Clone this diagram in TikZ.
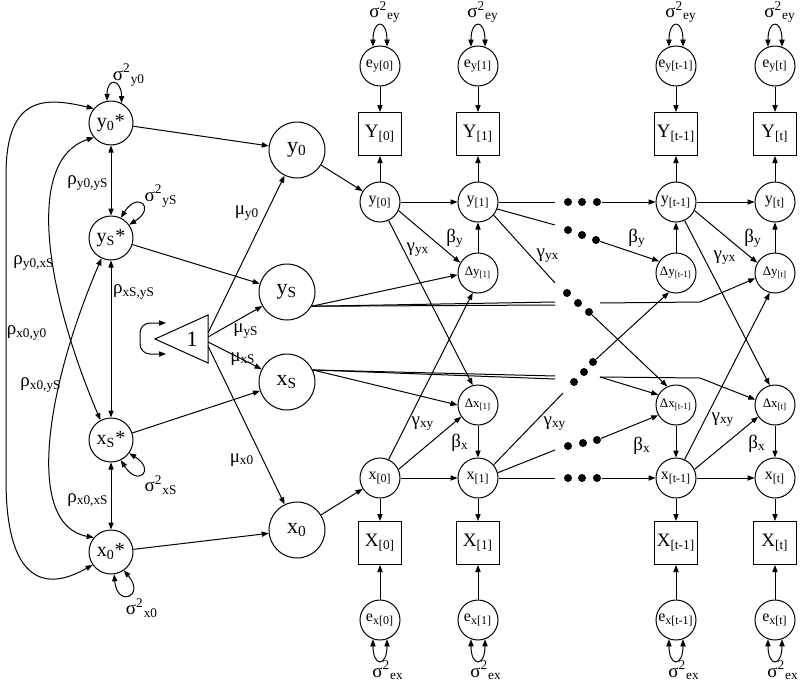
\documentclass[tikz,border=0pt]{standalone}
\usepackage{fontspec}
\setmainfont{Liberation Serif}
\usepackage{tikz}
\usetikzlibrary{arrows.meta, calc}

\newcommand{\tsub}[1]{\textsubscript{#1}}
\newcommand{\tsup}[1]{\textsuperscript{#1}}

\begin{document}
\begin{tikzpicture}[x=0.5pt, y=0.5pt, >={Triangle[length=3.5pt, width=2.6pt]}, line width=0.5pt,
  star/.style={circle, draw, minimum size=22pt, inner sep=0pt, font=\fontsize{10}{12}\selectfont},
  big/.style={circle, draw, minimum size=28pt, inner sep=0pt, font=\fontsize{11}{13}\selectfont},
  lat/.style={circle, draw, minimum size=20pt, inner sep=0pt, font=\fontsize{8}{10}\selectfont},
  dlt/.style={lat, font=\fontsize{6.5}{8}\selectfont},
  obs/.style={rectangle, draw, minimum size=21.5pt, inner sep=0pt, font=\fontsize{9.5}{11}\selectfont},
  blob/.style={circle, fill, minimum size=4pt, inner sep=0pt},
  lbl/.style={font=\fontsize{9.5}{11}\selectfont, inner sep=1pt}]

  \useasboundingbox (0,0) rectangle (800,-681);

  % initial and slope factors
  \node[star] (y0s) at (111,-123) {y\tsub{0}*};
  \node[star] (ySs) at (111,-238) {y\tsub{S}*};
  \node[star] (xSs) at (111,-440) {x\tsub{S}*};
  \node[star] (x0s) at (111,-552) {x\tsub{0}*};

  \draw[<->] (y0s.100) .. controls +(0,24) and +(0,24) .. (y0s.62);
  \draw[<->] (ySs.64) .. controls +(58:32) and +(32:32) .. (ySs.36);
  \draw[<->] (xSs.-64) .. controls +(-58:32) and +(-32:32) .. (xSs.-36);
  \draw[<->] (x0s.-82) .. controls +(-85:34) and +(-50:34) .. (x0s.-55);
  \node[lbl] (vy0) at (129,-75) {σ\tsup{2}\tsub{y0}};
  \node[lbl] (vyS) at (161,-196) {σ\tsup{2}\tsub{yS}};
  \node[lbl] (vxS) at (161,-485) {σ\tsup{2}\tsub{xS}};
  \node[lbl] (vx0) at (142,-608) {σ\tsup{2}\tsub{x0}};

  \draw[<->] (y0s) -- (ySs);
  \draw[<->] (ySs) -- (xSs);
  \draw[<->] (xSs) -- (x0s);
  \draw[<->] (y0s.140) .. controls (45,-97) and (6,-95) .. (6,-175) -- (6,-480)
    .. controls (6,-575) and (40,-595) .. (x0s.215);
  \draw[<->] (y0s.220) .. controls (25,-160) and (45,-290) .. (xSs.118);
  \draw[<->] (x0s.140) .. controls (25,-525) and (45,-390) .. (ySs.245);
  \node[lbl] (ry0yS) at (88,-183) {ρ\tsub{y0,yS}};
  \node[lbl] (rxSyS) at (134,-292) {ρ\tsub{xS,yS}};
  \node[lbl] (rx0xS) at (88,-500) {ρ\tsub{x0,xS}};
  \node[lbl] (ry0xS) at (34,-263) {ρ\tsub{y0,xS}};
  \node[lbl] (rx0y0) at (27,-333) {ρ\tsub{x0,y0}};
  \node[lbl] (rx0yS) at (41,-385) {ρ\tsub{x0,yS}};

  % constant
  \draw (155,-339) -- (208,-315) -- (208,-363) -- cycle;
  \node[font=\fontsize{11}{13}\selectfont] (one) at (192,-339) {1};
  \coordinate (oneA) at (208,-333);
  \coordinate (oneB) at (208,-337);
  \coordinate (oneC) at (208,-342);
  \coordinate (oneD) at (208,-346);
  \coordinate (tlA) at (166,-323);
  \coordinate (tlB) at (166,-354);
  \draw[<->, rounded corners=5pt] (tlA) -- (140,-323) -- (140,-354) -- (tlB);

  % means
  \node[big] (y0) at (297,-150) {y\tsub{0}};
  \node[big] (yS) at (287,-292) {y\tsub{S}};
  \node[big] (xS) at (287,-382) {x\tsub{S}};
  \node[big] (x0) at (297,-530) {x\tsub{0}};

  \draw[->] (y0s) -- (y0);
  \draw[->] (ySs) -- (yS);
  \draw[->] (xSs) -- (xS);
  \draw[->] (x0s) -- (x0);
  \draw[->] (oneA) -- (y0);
  \draw[->] (oneB) -- (yS);
  \draw[->] (oneC) -- (xS);
  \draw[->] (oneD) -- (x0);
  \node[lbl] (my0) at (247,-213) {μ\tsub{y0}};
  \node[lbl] (myS) at (246,-331) {μ\tsub{yS}};
  \node[lbl] (mxS) at (243,-359) {μ\tsub{xS}};
  \node[lbl] (mx0) at (242,-460) {μ\tsub{x0}};

  % occasion 0
  \node[lat] (eyA) at (380,-66) {e\tsub{y[0]}};
  \node[obs] (YA) at (380,-134) {Y\tsub{[0]}};
  \node[lat] (yA) at (380,-202) {y\tsub{[0]}};
  \node[lat] (xA) at (380,-478) {x\tsub{[0]}};
  \node[obs] (XA) at (380,-543) {X\tsub{[0]}};
  \node[lat] (exA) at (380,-620) {e\tsub{x[0]}};

  % occasion 1
  \node[lat] (eyB) at (478,-66) {e\tsub{y[1]}};
  \node[obs] (YB) at (478,-134) {Y\tsub{[1]}};
  \node[lat] (yB) at (478,-202) {y\tsub{[1]}};
  \node[dlt] (dyB) at (478,-273) {Δy\tsub{[1]}};
  \node[dlt] (dxB) at (478,-405) {Δx\tsub{[1]}};
  \node[lat] (xB) at (478,-478) {x\tsub{[1]}};
  \node[obs] (XB) at (478,-543) {X\tsub{[1]}};
  \node[lat] (exB) at (478,-620) {e\tsub{x[1]}};

  % occasion t-1
  \node[lat] (eyC) at (676,-66) {e\tsub{y[t-1]}};
  \node[obs] (YC) at (676,-134) {Y\tsub{[t-1]}};
  \node[lat] (yC) at (676,-202) {y\tsub{[t-1]}};
  \node[dlt] (dyC) at (676,-273) {Δy\tsub{[t-1]}};
  \node[dlt] (dxC) at (676,-405) {Δx\tsub{[t-1]}};
  \node[lat] (xC) at (676,-478) {x\tsub{[t-1]}};
  \node[obs] (XC) at (676,-543) {X\tsub{[t-1]}};
  \node[lat] (exC) at (676,-620) {e\tsub{x[t-1]}};

  % occasion t
  \node[lat] (eyD) at (775,-66) {e\tsub{y[t]}};
  \node[obs] (YD) at (775,-134) {Y\tsub{[t]}};
  \node[lat] (yD) at (775,-202) {y\tsub{[t]}};
  \node[dlt] (dyD) at (775,-273) {Δy\tsub{[t]}};
  \node[dlt] (dxD) at (775,-405) {Δx\tsub{[t]}};
  \node[lat] (xD) at (775,-478) {x\tsub{[t]}};
  \node[obs] (XD) at (775,-543) {X\tsub{[t]}};
  \node[lat] (exD) at (775,-620) {e\tsub{x[t]}};

  % measurement
  \draw[->] (yA) -- (YA);  \draw[->] (eyA) -- (YA);
  \draw[->] (xA) -- (XA);  \draw[->] (exA) -- (XA);
  \draw[->] (yB) -- (YB);  \draw[->] (eyB) -- (YB);
  \draw[->] (xB) -- (XB);  \draw[->] (exB) -- (XB);
  \draw[->] (yC) -- (YC);  \draw[->] (eyC) -- (YC);
  \draw[->] (xC) -- (XC);  \draw[->] (exC) -- (XC);
  \draw[->] (yD) -- (YD);  \draw[->] (eyD) -- (YD);
  \draw[->] (xD) -- (XD);  \draw[->] (exD) -- (XD);

  \draw[<->] (eyA.110) .. controls +(0,28) and +(0,28) .. (eyA.70);
  \draw[<->] (eyB.110) .. controls +(0,28) and +(0,28) .. (eyB.70);
  \draw[<->] (eyC.110) .. controls +(0,28) and +(0,28) .. (eyC.70);
  \draw[<->] (eyD.110) .. controls +(0,28) and +(0,28) .. (eyD.70);
  \draw[<->] (exA.-110) .. controls +(0,-28) and +(0,-28) .. (exA.-70);
  \draw[<->] (exB.-110) .. controls +(0,-28) and +(0,-28) .. (exB.-70);
  \draw[<->] (exC.-110) .. controls +(0,-28) and +(0,-28) .. (exC.-70);
  \draw[<->] (exD.-110) .. controls +(0,-28) and +(0,-28) .. (exD.-70);
  \node[lbl] (veyA) at (385,-12) {σ\tsup{2}\tsub{ey}};
  \node[lbl] (veyB) at (483,-12) {σ\tsup{2}\tsub{ey}};
  \node[lbl] (veyC) at (681,-12) {σ\tsup{2}\tsub{ey}};
  \node[lbl] (veyD) at (780,-12) {σ\tsup{2}\tsub{ey}};
  \node[lbl] (vexA) at (388,-670) {σ\tsup{2}\tsub{ex}};
  \node[lbl] (vexB) at (486,-670) {σ\tsup{2}\tsub{ex}};
  \node[lbl] (vexC) at (684,-670) {σ\tsup{2}\tsub{ex}};
  \node[lbl] (vexD) at (783,-670) {σ\tsup{2}\tsub{ex}};

  % dynamics 0 -> 1
  \draw[->] (y0) -- (yA);
  \draw[->] (x0) -- (xA);
  \draw[->] (yA) -- (yB);
  \draw[->] (xA) -- (xB);
  \draw[->] (yA.-25) -- (dyB.150);
  \draw[->] (yA.-65) -- (dxB.105);
  \draw[->] (xA.65) -- (dyB.-105);
  \draw[->] (xA.25) -- (dxB.-145);
  \draw[->] (dyB) -- (yB);
  \draw[->] (dxB) -- (xB);
  \draw[->] (yS.-30) -- (dyB.185);
  \draw[->] (xS.25) -- (dxB.180);
  \node[lbl] (byB) at (455,-238) {β\tsub{y}};
  \node[lbl] (gyxA) at (418,-250) {γ\tsub{yx}};
  \node[lbl] (gxyA) at (423,-424) {γ\tsub{xy}};
  \node[lbl] (bxB) at (460,-443) {β\tsub{x}};

  % skipped occasions
  \node[blob] (d1a) at (568,-202) {};
  \node[blob] (d1b) at (582,-202) {};
  \node[blob] (d1c) at (597,-202) {};
  \node[blob] (d2a) at (568,-230) {};
  \node[blob] (d2b) at (582,-235) {};
  \node[blob] (d2c) at (596,-240) {};
  \node[blob] (d3a) at (567,-293) {};
  \node[blob] (d3b) at (578,-303) {};
  \node[blob] (d3c) at (589,-312) {};
  \node[blob] (d4a) at (574,-382) {};
  \node[blob] (d4b) at (584,-372) {};
  \node[blob] (d4c) at (593,-362) {};
  \node[blob] (d5a) at (568,-446) {};
  \node[blob] (d5b) at (583,-443) {};
  \node[blob] (d5c) at (597,-440) {};
  \node[blob] (d6a) at (568,-478) {};
  \node[blob] (d6b) at (582,-478) {};
  \node[blob] (d6c) at (597,-478) {};

  \coordinate (eR1) at (555,-202);
  \coordinate (eR2) at (555,-225);
  \coordinate (eR3) at (555,-283);
  \coordinate (eR4) at (563,-393);
  \coordinate (eR5) at (555,-450);
  \coordinate (eR6) at (555,-478);
  \coordinate (gYa) at (555,-302);
  \coordinate (gYa2) at (555,-305);
  \coordinate (gYb) at (600,-303);
  \coordinate (gYc) at (700,-302);
  \coordinate (gXa) at (555,-376);
  \coordinate (gXa2) at (555,-379);
  \coordinate (gXb) at (600,-377);
  \coordinate (gXc) at (700,-378);

  \draw (yB) -- (eR1);
  \draw (yB.-20) -- (eR2);
  \draw (yB.-40) -- (eR3);
  \draw (xB.40) -- (eR4);
  \draw (xB.15) -- (eR5);
  \draw (xB) -- (eR6);
  \draw (yS.-30) -- (gYa);
  \draw (yS.-30) -- (gYa2);
  \draw (xS.25) -- (gXa);
  \draw (xS.25) -- (gXa2);
  \node[lbl] (gyxB) at (548,-256) {γ\tsub{yx}};
  \node[lbl] (gxyB) at (555,-424) {γ\tsub{xy}};

  \draw[->] (d1c) -- (yC);
  \draw[->] (d2c) -- (dyC.145);
  \draw[->] (d3c) -- (dxC.115);
  \draw[->] (d4c) -- (dyC.250);
  \draw[->] (d5c) -- (dxC.210);
  \draw[->] (d6c) -- (xC);
  \draw[->] (gYb) -- (gYc) -- (dyD.195);
  \draw[->] (gXb) -- (dxC.150);
  \draw[->] (gXb) -- (gXc) -- (dxD.165);
  \node[lbl] (byC) at (637,-238) {β\tsub{y}};
  \node[lbl] (bxC) at (642,-446) {β\tsub{x}};

  % dynamics t-1 -> t
  \draw[->] (yC) -- (yD);
  \draw[->] (xC) -- (xD);
  \draw[->] (yC.-25) -- (dyD.150);
  \draw[->] (yC.-65) -- (dxD.105);
  \draw[->] (xC.65) -- (dyD.-105);
  \draw[->] (xC.25) -- (dxD.-145);
  \draw[->] (dyC) -- (yC);
  \draw[->] (dyD) -- (yD);
  \draw[->] (dxC) -- (xC);
  \draw[->] (dxD) -- (xD);
  \node[lbl] (byD) at (753,-238) {β\tsub{y}};
  \node[lbl] (gyxC) at (725,-258) {γ\tsub{yx}};
  \node[lbl] (gxyC) at (723,-420) {γ\tsub{xy}};
  \node[lbl] (bxD) at (757,-444) {β\tsub{x}};
\end{tikzpicture}
\end{document}
